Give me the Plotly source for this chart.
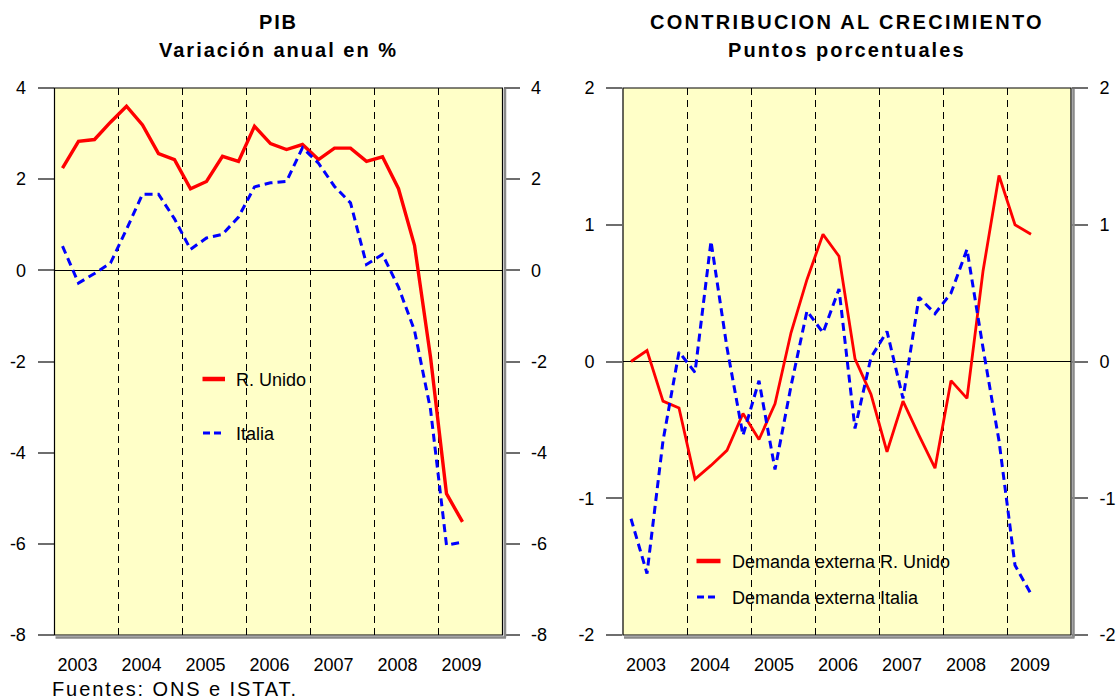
import plotly.graph_objects as go

W, H = 1119, 700

# ---------------- data ----------------
quarters = [f"{y}Q{q}" for y in range(2003, 2010) for q in range(1, 5)][:26]
years = [2003, 2004, 2005, 2006, 2007, 2008, 2009]
year_labels = ["2003", "2004", "2005", "2006", "2007", "2008", "2009"]

pib_uk = [2.24, 2.83, 2.87, 3.25,
          3.60, 3.19, 2.56, 2.43,
          1.79, 1.95, 2.50, 2.39,
          3.16, 2.78, 2.65, 2.76,
          2.43, 2.68, 2.68, 2.39,
          2.49, 1.79, 0.55, -1.90,
          -4.90, -5.52]
pib_it = [0.53, -0.28, -0.07, 0.16,
          0.90, 1.67, 1.67, 1.13,
          0.46, 0.71, 0.79, 1.17,
          1.83, 1.92, 1.95, 2.69,
          2.35, 1.84, 1.48, 0.13,
          0.35, -0.37, -1.32, -3.05,
          -6.03, -5.96]

dem_ext_uk = [0.00, 0.08, -0.29, -0.34,
              -0.86, -0.76, -0.65, -0.38,
              -0.57, -0.31, 0.21, 0.60,
              0.93, 0.77, 0.02, -0.24,
              -0.66, -0.29, -0.54, -0.78,
              -0.14, -0.27, 0.66, 1.36,
              1.00, 0.93]
dem_ext_it = [-1.15, -1.55, -0.58, 0.07,
              -0.08, 0.88, 0.10, -0.54,
              -0.14, -0.79, -0.18, 0.37,
              0.21, 0.53, -0.49, 0.03,
              0.22, -0.27, 0.47, 0.35,
              0.50, 0.82, 0.10, -0.58,
              -1.49, -1.70]

# numeric mid-quarter positions derived from quarter labels
xq = [int(s[:4]) + (int(s[-1]) - 0.5) / 4 for s in quarters]

RED = "#FF0000"
BLUE = "#0000FF"
FONT = "Liberation Sans, Arial, sans-serif"

def px(v):
    return v / W

def py(v):
    return 1 - v / H

# plot areas in window pixels
L_X0, L_X1 = 54.5, 502.5
R_X0, R_X1 = 623.0, 1071.0
Y_TOP, Y_BOT = 88.0, 635.0
PW = L_X1 - L_X0
PH = Y_BOT - Y_TOP

fig = go.Figure()
fig.add_trace(go.Scatter(x=xq, y=pib_uk, mode="lines", xaxis="x", yaxis="y",
                         line=dict(color=RED, width=3.4), name="R. Unido"))
fig.add_trace(go.Scatter(x=xq, y=pib_it, mode="lines", xaxis="x", yaxis="y",
                         line=dict(color=BLUE, width=3, dash="8px,5px"), name="Italia"))
fig.add_trace(go.Scatter(x=xq, y=dem_ext_uk, mode="lines", xaxis="x2", yaxis="y2",
                         line=dict(color=RED, width=2.8), name="Demanda externa R. Unido"))
fig.add_trace(go.Scatter(x=xq, y=dem_ext_it, mode="lines", xaxis="x2", yaxis="y2",
                         line=dict(color=BLUE, width=3, dash="8px,5px"), name="Demanda externa Italia"))
# helper traces for the right-hand mirrored axes
fig.add_trace(go.Scatter(x=[None], y=[None], xaxis="x", yaxis="y3", showlegend=False, hoverinfo="skip"))
fig.add_trace(go.Scatter(x=[None], y=[None], xaxis="x2", yaxis="y4", showlegend=False, hoverinfo="skip"))

tickfont = dict(family=FONT, size=18, color="black")
ydom = [py(Y_BOT), py(Y_TOP)]

def xaxis_cfg(x0, x1, anchor):
    return dict(domain=[px(x0), px(x1)], range=[2003, 2010], anchor=anchor,
                automargin=False,
                tickmode="array", tickvals=[y + 0.36 for y in years], ticktext=year_labels,
                ticks="", showgrid=False, showline=False, zeroline=False,
                tickfont=tickfont, ticklabelstandoff=17, fixedrange=True,
                minor=dict(tickmode="array", tickvals=years[1:], showgrid=True,
                           gridcolor="black", gridwidth=1, griddash="7px,5px"))

def yaxis_cfg(rng, vals, anchor, side, overlaying=None):
    d = dict(domain=ydom, range=rng, anchor=anchor, side=side, automargin=False,
             tickmode="array", tickvals=vals, ticktext=[str(v) for v in vals],
             ticks="outside", ticklen=16, tickwidth=1.5, tickcolor="#6e6e6e",
             showgrid=False, showline=False, tickfont=tickfont,
             ticklabelstandoff=8, fixedrange=True)
    if overlaying:
        d["overlaying"] = overlaying
        d["zeroline"] = False
    else:
        d["zeroline"] = True
        d["zerolinecolor"] = "black"
        d["zerolinewidth"] = 1
    return d

fig.update_layout(
    width=W, height=H,
    margin=dict(l=0, r=0, t=0, b=0, autoexpand=False),
    paper_bgcolor="white",
    plot_bgcolor="#FFFFC8",
    showlegend=False,
    font=dict(family=FONT, color="black"),
    xaxis=xaxis_cfg(L_X0, L_X1, "y"),
    xaxis2=xaxis_cfg(R_X0, R_X1, "y2"),
    yaxis=yaxis_cfg([-8, 4], [-8, -6, -4, -2, 0, 2, 4], "x", "left"),
    yaxis3=yaxis_cfg([-8, 4], [-8, -6, -4, -2, 0, 2, 4], "x", "right", overlaying="y"),
    yaxis2=yaxis_cfg([-2, 2], [-2, -1, 0, 1, 2], "x2", "left"),
    yaxis4=yaxis_cfg([-2, 2], [-2, -1, 0, 1, 2], "x2", "right", overlaying="y2"),
)

shapes = []
for xr, yr in (("x domain", "y domain"), ("x2 domain", "y2 domain")):
    # shadow right & bottom
    shapes.append(dict(type="line", xref=xr, yref=yr, x0=1 + 2.5 / PW, x1=1 + 2.5 / PW,
                       y0=-2.5 / PH, y1=1 - 1 / PH, line=dict(color="#8a8a8a", width=2.5), layer="above"))
    shapes.append(dict(type="line", xref=xr, yref=yr, x0=1 / PW, x1=1 + 3.5 / PW,
                       y0=-2.5 / PH, y1=-2.5 / PH, line=dict(color="#8a8a8a", width=2.5), layer="above"))
    shapes.append(dict(type="rect", xref=xr, yref=yr, x0=0, x1=1, y0=0, y1=1,
                       line=dict(color="black", width=1.2), layer="above"))

# custom legends (paper coords)
def leg_line(x0, x1, y, color, dash=None, width=4):
    line = dict(color=color, width=width)
    if dash:
        line["dash"] = dash
    return dict(type="line", xref="paper", yref="paper", x0=px(x0), x1=px(x1),
                y0=py(y), y1=py(y), line=line, layer="above")

shapes.append(leg_line(202.5, 225, 379, RED, width=4.5))
shapes.append(leg_line(203, 221, 433, BLUE, dash="7px,4px", width=3))
shapes.append(leg_line(696.5, 720.5, 561, RED, width=4.5))
shapes.append(leg_line(697, 716, 597, BLUE, dash="7px,4px", width=3))
fig.update_layout(shapes=shapes)

ann = []
def text(x, y, s, size, xanchor="left", bold=False, spacing=None):
    t = f"<b>{s}</b>" if bold else s
    if spacing:
        t = f"<span style='letter-spacing:{spacing}px'>{t}</span>"
    ann.append(dict(xref="paper", yref="paper", x=px(x), y=py(y), text=t, showarrow=False,
                    xanchor=xanchor, yanchor="middle",
                    font=dict(family=FONT, size=size, color="black")))

lc = (L_X0 + L_X1) / 2
rc = (R_X0 + R_X1) / 2
text(lc, 22, "PIB", 20, "center", bold=True, spacing=1.8)
text(lc, 50, "Variación anual en %", 20, "center", bold=True, spacing=2.0)
text(rc, 22, "CONTRIBUCION AL CRECIMIENTO", 20, "center", bold=True, spacing=2.3)
text(rc, 50, "Puntos porcentuales", 20, "center", bold=True, spacing=2.1)

text(234, 380, "R. Unido", 18)
text(234, 434, "Italia", 18)
text(730, 562, "Demanda externa R. Unido", 18)
text(730, 598, "Demanda externa Italia", 18)

text(50, 689, "Fuentes: ONS e ISTAT.", 20, spacing=1.9)
fig.update_layout(annotations=ann)

# remove the default page margin so the 1119x700 figure fills the window exactly
fig.write_html("out.html",
               config={"displayModeBar": False},
               post_script="document.body.style.margin='0';document.body.style.overflow='hidden';")
